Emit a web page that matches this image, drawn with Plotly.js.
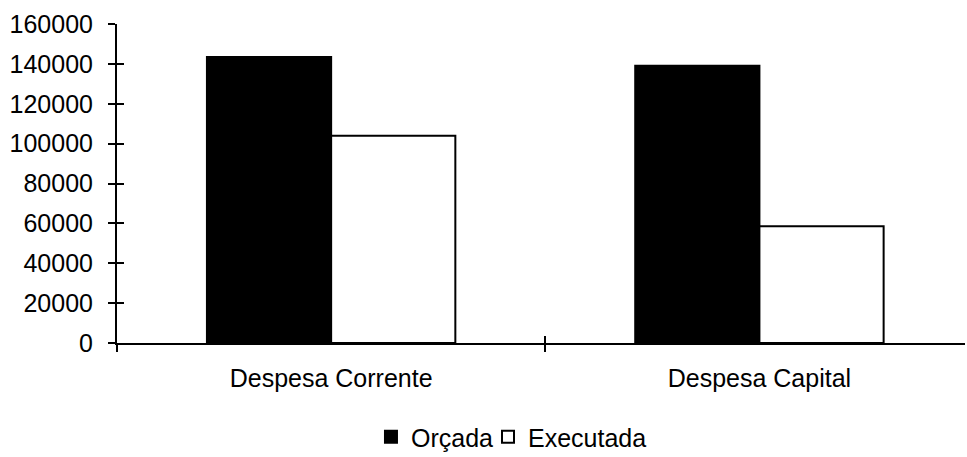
<!DOCTYPE html>
<html>
<head>
<meta charset="utf-8">
<script src="https://cdn.plot.ly/plotly-3.0.1.min.js"></script>
<style>html,body{margin:0;padding:0;background:#fff;}#chart{width:967px;height:457px;}</style>
</head>
<body>
<div id="chart"></div>
<script>
const categories = ["Despesa Corrente", "Despesa Capital"];
const orcada = [143500, 139000];
const executada = [104000, 58500];
const yTicks = [0, 20000, 40000, 60000, 80000, 100000, 120000, 140000, 160000];

const FONT = "Liberation Sans, Arial, sans-serif";

const traces = [
  {type: "bar", name: "Orçada", x: categories, y: orcada, legend: "legend",
   marker: {color: "#000000", line: {color: "#000000", width: 2}}, hoverinfo: "y"},
  {type: "bar", name: "Executada", x: categories, y: executada, legend: "legend2",
   marker: {color: "#ffffff", line: {color: "#000000", width: 2}}, hoverinfo: "y"},
  // empty helper trace so that the overlay axes (inner half of the crossing ticks) are drawn
  {type: "scatter", mode: "markers", x: [], y: [], xaxis: "x2", yaxis: "y2",
   showlegend: false, hoverinfo: "skip"}
];

const legendBase = {orientation: "h", xanchor: "left", y: -0.295, yanchor: "middle",
                    font: {family: FONT, size: 25, color: "#000"}, itemwidth: 30,
                    bgcolor: "rgba(0,0,0,0)"};

const layout = {
  width: 967, height: 457,
  margin: {l: 117, r: 2, t: 24, b: 114, autoexpand: false},
  paper_bgcolor: "#fff", plot_bgcolor: "#fff",
  font: {family: FONT, size: 25, color: "#000"},
  barmode: "group",
  bargap: 0.42,
  bargroupgap: 0,
  showlegend: true,
  legend: Object.assign({}, legendBase, {x: 0.2995}),
  legend2: Object.assign({}, legendBase, {x: 0.4375}),
  xaxis: {type: "category", range: [-0.5, 1.48], showgrid: false, zeroline: false,
          showline: true, linecolor: "#000", linewidth: 2,
          ticks: "outside", tickson: "boundaries", ticklen: 7, tickwidth: 2, tickcolor: "#000",
          ticklabelstandoff: 12, tickfont: {family: FONT, size: 25, color: "#000"}},
  xaxis2: {type: "linear", range: [-0.5, 1.48], overlaying: "x", anchor: "y2",
           showgrid: false, zeroline: false, showline: false, showticklabels: false,
           tickmode: "array", tickvals: [0.5], ticks: "inside", ticklen: 7, tickwidth: 2, tickcolor: "#000"},
  yaxis: {range: [0, 160000], tickmode: "array", tickvals: yTicks, tickformat: "d",
          showgrid: false, zeroline: false, showline: true, linecolor: "#000", linewidth: 2,
          ticks: "outside", ticklen: 7, tickwidth: 2, tickcolor: "#000",
          ticklabelstandoff: 10, tickfont: {family: FONT, size: 25, color: "#000"}},
  yaxis2: {range: [0, 160000], overlaying: "y", side: "left", anchor: "x2",
           tickmode: "array", tickvals: yTicks, showticklabels: false,
           showgrid: false, zeroline: false, showline: false,
           ticks: "inside", ticklen: 7, tickwidth: 2, tickcolor: "#000"}
};

Plotly.newPlot("chart", traces, layout, {displayModeBar: false, staticPlot: true});
</script>
</body>
</html>
